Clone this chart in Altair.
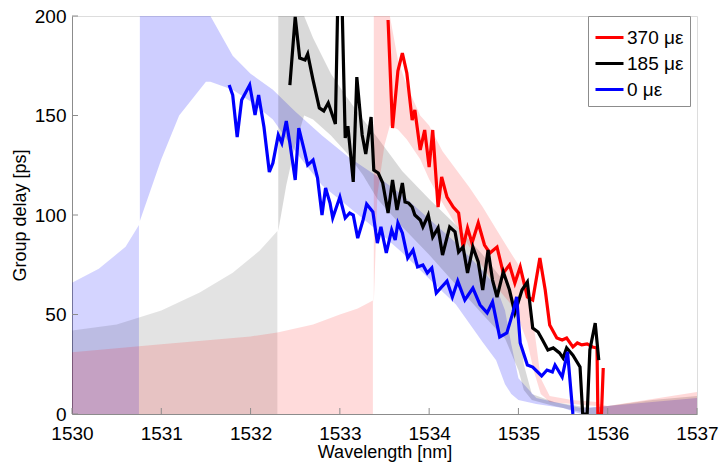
import altair as alt
import pandas as pd

FONT = "Liberation Sans"

# ---------------- measured group delay (thick lines) ----------------
blue_x = [1531.76,1531.80,1531.85,1531.90,1531.99,1532.05,1532.09,1532.15,1532.21,1532.25,
          1532.31,1532.35,1532.40,1532.44,1532.50,1532.54,1532.60,1532.64,1532.70,1532.75,
          1532.80,1532.84,1532.89,1532.92,1533.00,1533.06,1533.11,1533.15,1533.20,1533.26,
          1533.30,1533.37,1533.42,1533.46,1533.52,1533.58,1533.62,1533.65,1533.70,1533.76,
          1533.82,1533.87,1533.93,1533.98,1534.03,1534.08,1534.14,1534.20,1534.26,1534.32,
          1534.40,1534.49,1534.57,1534.65,1534.71,1534.79,1534.87,1534.94,1534.98,1535.02,
          1535.10,1535.16,1535.26,1535.32,1535.38,1535.41,1535.49,1535.55,1535.61]
blue_y = [165.3,160.3,139.2,157.8,165.3,150.3,160.3,144.2,121.6,126.1,
          140.2,136.2,147.2,136.2,117.6,143.7,132.7,125.1,127.6,118.6,
          100.0,113.6,106.0,98.5,109.0,98.5,101.0,100.0,88.4,97.5,
          105.5,101.5,85.9,94.0,80.9,92.5,87.4,96.0,91.0,78.4,
          82.4,73.9,74.9,70.9,73.4,60.8,63.8,66.8,58.8,66.8,
          57.3,63.3,54.8,50.8,56.3,38.7,40.7,51.3,58.8,35.7,
          24.6,23.6,19.1,22.1,21.1,24.6,18.6,31.2,0.0]

black_x = [1532.44,1532.50,1532.55,1532.61,1532.64,1532.70,1532.77,1532.82,1532.87,1532.95,
           1532.98,1533.02,1533.06,1533.09,1533.15,1533.19,1533.25,1533.29,1533.35,1533.38,
           1533.43,1533.48,1533.54,1533.59,1533.64,1533.70,1533.73,1533.77,1533.81,1533.84,
           1533.90,1533.93,1533.99,1534.04,1534.10,1534.15,1534.23,1534.29,1534.33,1534.38,
           1534.43,1534.49,1534.55,1534.60,1534.66,1534.71,1534.76,1534.83,1534.90,1534.96,
           1535.04,1535.10,1535.16,1535.22,1535.27,1535.33,1535.39,1535.46,1535.50,1535.54,
           1535.61,1535.69,1535.72,1535.77,1535.80,1535.86,1535.90]
black_y = [165.3,199.5,178.9,177.9,180.9,167.8,153.8,152.3,156.3,145.7,
           215.0,215.0,138.7,144.7,116.6,169.3,140.2,130.7,149.2,122.6,
           121.1,116.1,101.0,117.6,102.5,116.1,106.5,106.0,104.0,100.0,
           97.5,94.0,100.0,88.9,93.5,79.9,94.0,91.5,81.4,83.9,
           70.9,83.9,76.4,62.3,82.4,67.3,58.8,71.4,62.3,50.8,
           62.3,66.3,43.2,41.2,37.2,32.2,33.2,30.7,28.1,33.2,
           29.6,23.6,0.0,0.0,32.2,45.7,27.1]

red_x = [1533.54,1533.59,1533.65,1533.70,1533.75,1533.81,1533.84,1533.90,1533.95,1534.00,
         1534.04,1534.10,1534.14,1534.20,1534.27,1534.33,1534.38,1534.43,1534.48,1534.55,
         1534.62,1534.68,1534.76,1534.83,1534.90,1534.96,1535.02,1535.10,1535.16,1535.24,
         1535.30,1535.35,1535.43,1535.49,1535.54,1535.61,1535.66,1535.71,1535.77,1535.83,
         1535.88,1535.89,1535.93,1535.95]
red_y = [198.0,143.7,172.4,181.4,171.4,147.7,152.8,132.7,142.7,124.1,
         142.7,104.0,119.1,109.0,104.0,101.0,83.9,93.5,85.9,96.0,
         84.9,80.9,83.9,70.9,74.9,65.8,73.9,58.8,57.3,78.4,
         62.3,44.7,38.2,37.2,38.2,33.7,35.7,34.7,35.2,33.7,
         33.2,0.0,0.0,23.1]

series_names = ["370 \u03bc\u03b5", "185 \u03bc\u03b5", "0 \u03bc\u03b5"]
series_colors = ["#ff0000", "#000000", "#0000ff"]

# ---------------- simulated group delay (ripple envelopes) ----------------
# blue (0 strain)
sb1_x = [1530.0, 1530.3, 1530.6, 1530.75]
sb1_hi = [66, 73, 84, 95]
sb1_lo = [0, 0, 0, 0]
sb2_x = [1530.76, 1531.0, 1531.2, 1531.5, 1531.55, 1531.8, 1532.0, 1532.25, 1532.5, 1532.8,
         1533.1, 1533.4, 1533.7, 1534.0, 1534.3, 1534.6, 1534.75, 1534.85, 1534.92, 1535.0,
         1535.2, 1535.5, 1535.7, 1536.0, 1536.5, 1537.0]
sb2_hi = [200, 200, 200, 200, 200, 180, 171, 163, 152, 140,
          129, 120, 110, 98, 86, 72, 64, 52, 35, 18,
          8, 5, 3, 4, 6, 8]
sb2_lo = [97, 128, 150, 167, 167, 163, 157, 148, 132, 115,
          104, 93, 81, 68, 55, 36, 27, 15, 10, 7,
          5, 3, 0, 0, 0, 0]

# grey (185 strain)
sg1_x = [1530.0, 1530.5, 1531.0, 1531.43, 1531.8, 1532.1, 1532.3]
sg1_hi = [42, 45, 52, 61, 71, 82, 92]
sg1_lo = [0, 0, 0, 0, 0, 0, 0]
sg2_x = [1532.31, 1532.4, 1532.5, 1532.6, 1532.7, 1532.9, 1533.08, 1533.26, 1533.42, 1533.7,
         1534.0, 1534.3, 1534.6, 1534.85, 1535.0, 1535.06, 1535.15, 1535.4, 1535.8, 1536.0,
         1536.5, 1537.0]
sg2_hi = [200, 200, 200, 200, 189, 171, 159, 148, 139, 122,
          108, 95, 80, 66, 50, 25, 10, 6, 3, 4,
          7, 9]
sg2_lo = [92, 115, 135, 150, 148, 140, 131, 120, 108, 94,
          80, 65, 50, 38, 22, 12, 7, 4, 0, 0,
          0, 0]

# red (370 strain)
sr1_x = [1530.0, 1531.0, 1532.0, 1532.3, 1532.7, 1533.0, 1533.2, 1533.37]
sr1_hi = [31, 35, 39, 41, 45, 50, 53, 57]
sr1_lo = [0, 0, 0, 0, 0, 0, 0, 0]
sr2_x = [1533.38, 1533.42, 1533.5, 1533.56, 1533.65, 1533.75, 1533.9, 1534.0, 1534.15, 1534.3,
         1534.45, 1534.6, 1534.75, 1534.9, 1535.0, 1535.1, 1535.17, 1535.25, 1535.35, 1535.6,
         1535.88, 1535.9, 1536.0, 1536.5, 1537.0]
sr2_hi = [200, 200, 200, 200, 178, 165, 150, 145, 132, 123,
          114, 104, 93, 82, 75, 65, 45, 18, 9, 7,
          6, 5, 4, 7.5, 11]
sr2_lo = [55, 110, 135, 145, 143, 138, 128, 118, 106, 95,
          84, 74, 64, 56, 48, 36, 22, 10, 6, 5,
          4, 0, 0, 0, 0]

x_ticks = [1530, 1531, 1532, 1533, 1534, 1535, 1536, 1537]
y_ticks = [0, 50, 100, 150, 200]

# ---------------- build tables ----------------
def line_df(xs, ys, name):
    return pd.DataFrame({"x": xs, "y": ys, "series": name, "i": list(range(len(xs)))})

lines = pd.concat([
    line_df(red_x, red_y, series_names[0]),
    line_df(black_x, black_y, series_names[1]),
    line_df(blue_x, blue_y, series_names[2]),
], ignore_index=True)

def seg_df(xs, hi, lo):
    return pd.DataFrame({"x": xs, "hi": hi, "lo": lo})

xscale = alt.Scale(domain=[1530, 1537], nice=False, zero=False)
yscale = alt.Scale(domain=[0, 200], nice=False)

AXIS_GREY = "#8c8c8c"

x_axis = alt.Axis(values=x_ticks, format="d", title="Wavelength [nm]", grid=False,
                  tickSize=0, labelPadding=10, labelFontSize=19, labelFont=FONT,
                  labelColor="#000000", titleFont=FONT, titleFontSize=18,
                  titleFontWeight="normal", titleColor="#000000", titlePadding=0,
                  domainColor=AXIS_GREY, domainWidth=1, labelFlush=False)
y_axis = alt.Axis(values=y_ticks, format="d", title="Group delay [ps]", grid=False,
                  tickSize=0, labelPadding=6, labelFontSize=19, labelFont=FONT,
                  labelColor="#000000", titleFont=FONT, titleFontSize=18,
                  titleFontWeight="normal", titleColor="#000000", titlePadding=5,
                  domainColor=AXIS_GREY, domainWidth=1)

def sim_layer(df, color, op):
    return alt.Chart(df).mark_area(color=color, opacity=op, clip=True, interpolate="linear").encode(
        x=alt.X("x:Q", scale=xscale, axis=x_axis),
        y=alt.Y("hi:Q", scale=yscale, axis=y_axis),
        y2="lo:Q",
    )

areas = [
    sim_layer(seg_df(sb1_x, sb1_hi, sb1_lo), "#0000ff", 0.17),
    sim_layer(seg_df(sb2_x, sb2_hi, sb2_lo), "#2020ff", 0.22),
    sim_layer(seg_df(sg1_x, sg1_hi, sg1_lo), "#000000", 0.11),
    sim_layer(seg_df(sg2_x, sg2_hi, sg2_lo), "#000000", 0.15),
    sim_layer(seg_df(sr1_x, sr1_hi, sr1_lo), "#ff0000", 0.14),
    sim_layer(seg_df(sr2_x, sr2_hi, sr2_lo), "#ff0000", 0.15),
]

line_layer = alt.Chart(lines).mark_line(strokeWidth=3.2, clip=True).encode(
    x=alt.X("x:Q", scale=xscale, axis=x_axis),
    y=alt.Y("y:Q", scale=yscale, axis=y_axis),
    color=alt.Color("series:N",
                    scale=alt.Scale(domain=series_names, range=series_colors),
                    sort=series_names,
                    legend=alt.Legend(title=None, orient="none", legendX=516, legendY=0,
                                      symbolType="stroke", symbolSize=784, symbolStrokeWidth=3,
                                      labelFontSize=19, labelFont=FONT, labelColor="#000000",
                                      fillColor="#ffffff", strokeColor=AXIS_GREY,
                                      padding=6, rowPadding=-2, labelOffset=2)),
    order="i:Q",
)

# inward tick marks
xt = alt.Chart(pd.DataFrame({"v": x_ticks})).mark_rule(color=AXIS_GREY, strokeWidth=1).encode(
    x=alt.X("v:Q", scale=xscale, axis=x_axis), y=alt.value(398), y2=alt.value(392))
yt = alt.Chart(pd.DataFrame({"v": y_ticks})).mark_rule(color=AXIS_GREY, strokeWidth=1).encode(
    y=alt.Y("v:Q", scale=yscale, axis=y_axis), x=alt.value(0), x2=alt.value(6))

chart = alt.layer(*areas, xt, yt, line_layer).properties(
    width=625, height=398,
    autosize=alt.AutoSizeParams(type="none"),
    padding={"left": 72, "top": 16, "right": 24, "bottom": 49},
).configure_view(stroke=None).configure(background="#ffffff")

chart.save("out.html", embed_options={"renderer": "svg", "actions": False})
